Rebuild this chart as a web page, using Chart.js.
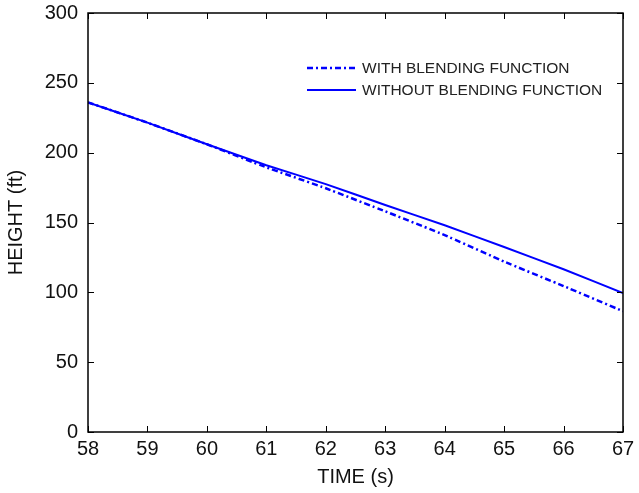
<!DOCTYPE html>
<html>
<head>
<meta charset="utf-8">
<script src="https://cdn.jsdelivr.net/npm/chart.js@4.4.1/dist/chart.umd.min.js"></script>
<style>
    html, body { margin: 0; padding: 0; background: #fff; }
    #wrap { width: 639px; height: 493px; }
</style>
</head>
<body>
<div id="wrap"><canvas id="heightChart" width="639" height="493"></canvas></div>
<script>
// time (s) and height (ft)
const timeSec = [58, 59, 60, 61, 62, 63, 64, 65, 66, 67];
const withBlending = [236, 221.5, 206, 189.5, 174.5, 158, 141, 122, 104.5, 86.5];
const withoutBlending = [236, 221.5, 206, 191, 177.5, 162.5, 148, 132.5, 116.5, 99.5];
const xTicks = [58, 59, 60, 61, 62, 63, 64, 65, 66, 67];
const yTicks = [0, 50, 100, 150, 200, 250, 300];

const FONT = 'Arial, "Liberation Sans", sans-serif';
const BLUE = '#0000ff';

const toPoints = (xs, ys) => xs.map((x, i) => ({ x: x, y: ys[i] }));

// frame with inward ticks on all four sides, like the original plot
const framePlugin = {
    id: 'frame',
    afterDraw(chart) {
        const { ctx, chartArea: a, scales } = chart;
        ctx.save();
        ctx.strokeStyle = '#000';
        ctx.lineWidth = 1.5;
        ctx.strokeRect(a.left, a.top, a.right - a.left, a.bottom - a.top);
        ctx.lineWidth = 1;
        ctx.beginPath();
        xTicks.forEach(v => {
            const px = Math.round(scales.x.getPixelForValue(v)) + 0.5;
            ctx.moveTo(px, a.bottom); ctx.lineTo(px, a.bottom - 6);
            ctx.moveTo(px, a.top); ctx.lineTo(px, a.top + 6);
        });
        yTicks.forEach(v => {
            const py = Math.round(scales.y.getPixelForValue(v)) + 0.5;
            ctx.moveTo(a.left, py); ctx.lineTo(a.left + 6, py);
            ctx.moveTo(a.right, py); ctx.lineTo(a.right - 6, py);
        });
        ctx.stroke();
        ctx.restore();
    }
};

// legend drawn inside the plot area, no box
const legendPlugin = {
    id: 'insideLegend',
    afterDraw(chart) {
        const { ctx, chartArea: a } = chart;
        const x0 = a.left + 219;
        const rows = [
            { y: a.top + 55, ds: chart.data.datasets[0] },
            { y: a.top + 77, ds: chart.data.datasets[1] }
        ];
        ctx.save();
        rows.forEach(r => {
            ctx.strokeStyle = r.ds.borderColor;
            ctx.lineWidth = r.ds.borderWidth;
            ctx.setLineDash(r.ds.borderDash || []);
            ctx.beginPath();
            ctx.moveTo(x0, r.y);
            ctx.lineTo(x0 + 49, r.y);
            ctx.stroke();
            ctx.setLineDash([]);
            ctx.fillStyle = '#222';
            ctx.font = '15.5px ' + FONT;
            ctx.textBaseline = 'middle';
            ctx.fillText(r.ds.label, x0 + 55, r.y + 1);
        });
        ctx.restore();
    }
};

new Chart(document.getElementById('heightChart'), {
    type: 'line',
    data: {
        datasets: [
            {
                label: 'WITH BLENDING FUNCTION',
                data: toPoints(timeSec, withBlending),
                borderColor: BLUE,
                borderWidth: 2.5,
                borderDash: [6, 3, 2, 3],
                pointRadius: 0,
                tension: 0.1,
                fill: false
            },
            {
                label: 'WITHOUT BLENDING FUNCTION',
                data: toPoints(timeSec, withoutBlending),
                borderColor: BLUE,
                borderWidth: 2,
                pointRadius: 0,
                tension: 0.1,
                fill: false
            }
        ]
    },
    options: {
        responsive: false,
        animation: false,
        layout: { padding: { top: 13, right: 16, left: 0, bottom: 0 } },
        plugins: {
            legend: { display: false },
            tooltip: { enabled: false }
        },
        scales: {
            x: {
                type: 'linear',
                min: 58,
                max: 67,
                afterFit: s => { s.height = 61; },
                afterBuildTicks: s => { s.ticks = xTicks.map(v => ({ value: v })); },
                grid: { display: false, tickLength: 4 },
                border: { display: false },
                ticks: { color: '#111', font: { family: FONT, size: 20 }, padding: 1, maxRotation: 0 },
                title: { display: true, text: 'TIME (s)', color: '#111', font: { family: FONT, size: 20 }, padding: { top: 2, bottom: 4 } }
            },
            y: {
                type: 'linear',
                min: 0,
                max: 300,
                afterFit: s => { s.width = 88; s.paddingTop = 0; s.paddingBottom = 0; },
                afterBuildTicks: s => { s.ticks = yTicks.map(v => ({ value: v })); },
                grid: { display: false },
                border: { display: false },
                ticks: { color: '#111', font: { family: FONT, size: 20 }, padding: 2 },
                title: { display: true, text: 'HEIGHT (ft)', color: '#111', font: { family: FONT, size: 20 }, padding: { top: 4, bottom: 4 } }
            }
        }
    },
    plugins: [framePlugin, legendPlugin]
});
</script>
</body>
</html>
